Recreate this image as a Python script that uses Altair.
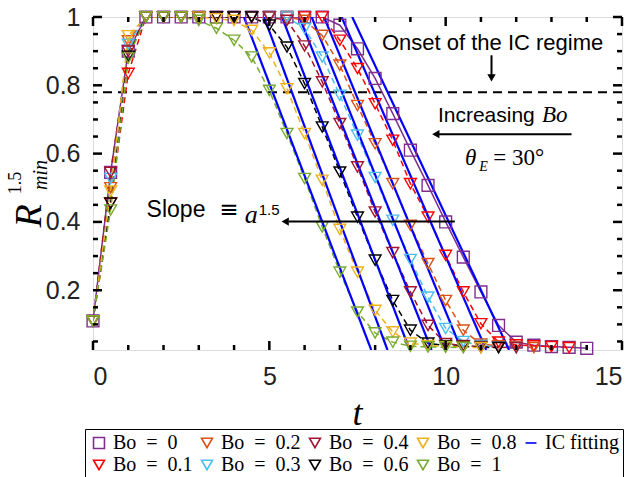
import altair as alt
import pandas as pd

# ---------------- data ----------------
T = [0, 0.5, 1, 1.5, 2, 2.5, 3, 3.5, 4, 4.5, 5, 5.5, 6, 6.5, 7, 7.5, 8, 8.5,
     9, 9.5, 10, 10.5, 11, 11.5, 12, 12.5, 13, 13.5, 14]

series_names = ["Bo\u2002=\u20020", "Bo\u2002=\u20020.1", "Bo\u2002=\u20020.2", "Bo\u2002=\u20020.3",
                "Bo\u2002=\u20020.4", "Bo\u2002=\u20020.6", "Bo\u2002=\u20020.8", "Bo\u2002=\u20021"]
series_colors = ["#7E2F8E", "#FF0000", "#D95319", "#4DBEEE",
                 "#A2142F", "#000000", "#EDB120", "#77AC30"]
fit_name = "IC fitting"

y_bo0 = [0.11, 0.545, 0.90, 1, 1, 1, 1, 1, 1, 1, 1, 1, 1, 1, 0.976, 0.907, 0.82, 0.717,
         0.61, 0.507, 0.40, 0.297, 0.195, 0.097, 0.048, 0.039, 0.035, 0.033, 0.03]
y_bo01 = [0.11, 0.455, 0.835, 1, 1, 1, 1, 1, 1, 1, 1, 1, 1, 1, 0.932, 0.849, 0.746, 0.639,
          0.512, 0.414, 0.302, 0.195, 0.102, 0.048, 0.04, 0.037, 0.035, 0.032]
y_bo02 = [0.11, 0.50, 0.93, 1, 1, 1, 1, 1, 1, 1, 1, 1, 0.99, 0.946, 0.859, 0.741, 0.629, 0.512,
          0.39, 0.278, 0.17, 0.083, 0.042, 0.037, 0.034, 0.032]
y_bo03 = [0.11, 0.527, 0.92, 1, 1, 1, 1, 1, 1, 1, 1, 1, 0.966, 0.883, 0.771, 0.654, 0.53, 0.405,
          0.29, 0.18, 0.088, 0.05, 0.038, 0.034, 0.032]
y_bo04 = [0.11, 0.545, 0.90, 1, 1, 1, 1, 1, 1, 1, 1, 0.99, 0.915, 0.81, 0.688, 0.561, 0.429, 0.31,
          0.195, 0.097, 0.044, 0.038, 0.035, 0.033, 0.032]
y_bo06 = [0.11, 0.455, 0.885, 1, 1, 1, 1, 1, 1, 1, 0.976, 0.912, 0.805, 0.678, 0.546, 0.414, 0.288,
          0.17, 0.083, 0.045, 0.038, 0.035, 0.033, 0.032]
y_bo08 = [0.11, 0.49, 0.945, 1, 1, 1, 1, 0.995, 0.99, 0.961, 0.895, 0.79, 0.659, 0.522, 0.378,
          0.253, 0.141, 0.078, 0.045, 0.038, 0.035, 0.033, 0.032]
y_bo1 = [0.11, 0.435, 0.88, 1, 1, 1, 0.99, 0.967, 0.932, 0.883, 0.785, 0.659, 0.527, 0.385, 0.253,
         0.136, 0.075, 0.048, 0.036, 0.034, 0.033, 0.032]
series_values = [y_bo0, y_bo01, y_bo02, y_bo03, y_bo04, y_bo06, y_bo08, y_bo1]

# IC fitting lines: t where the line is at R=1 and where it reaches the bottom axis
fit_t_top = [7.35, 7.05, 6.55, 6.2, 5.85, 5.36, 4.85, 4.28]
fit_t_bottom = [11.8, 11.15, 10.45, 10.0, 9.6, 8.98, 8.35, 7.89]
Y_MIN = 0.025
onset_level = 0.78

legend_order = series_names + [fit_name]

# ---------------- layout ----------------
W, H = 529, 333
PAD_L, PAD_T = 93, 17

color_of = dict(zip(series_names, series_colors))
color_of[fit_name] = "#0000FF"
shape_of = {n: "triangle-down" for n in series_names}
shape_of[series_names[0]] = "square"
shape_of[fit_name] = "stroke"

rows = []
for name, yv in zip(series_names, series_values):
    for t, v in zip(T, yv):
        rows.append({"t": t, "R": v, "series": name})
df = pd.DataFrame(rows)

fit_rows = []
for name, a, b in zip(series_names, fit_t_top, fit_t_bottom):
    fit_rows.append({"t": a, "R": 1.0, "series": name})
    fit_rows.append({"t": b, "R": Y_MIN, "series": name})
df_fit = pd.DataFrame(fit_rows)

xs = alt.Scale(domain=[0, 15], nice=False, zero=False)
ys = alt.Scale(domain=[Y_MIN, 1], nice=False, zero=False)

X = alt.X("t:Q", scale=xs, axis=alt.Axis(values=[0, 5, 10, 15], title=None, grid=False,
                                         tickSize=0, domain=False, labelFontSize=25,
                                         labelFont="Liberation Sans", labelPadding=14,
                                         labelColor="#222222", format="d"))
Y = alt.Y("R:Q", scale=ys, axis=alt.Axis(values=[0.2, 0.4, 0.6, 0.8, 1], title=None, grid=False,
                                         tickSize=0, domain=False, labelFontSize=25,
                                         labelFont="Liberation Sans", labelPadding=13,
                                         labelColor="#222222",
                                         labelExpr="datum.value == 1 ? '1' : format(datum.value, '.1f')"))

layers = []

# onset dashed line
layers.append(alt.Chart(pd.DataFrame({"R": [onset_level]})).mark_rule(
    color="black", strokeWidth=2, strokeDash=[9, 6]).encode(y=alt.Y("R:Q", scale=ys)))

# connecting lines of each series
for name in series_names:
    d = df[df.series == name]
    kw = dict(color=color_of[name], strokeWidth=1.5, clip=True)
    if name != series_names[0]:
        kw["strokeDash"] = [6, 4]
    layers.append(alt.Chart(d).mark_line(**kw).encode(x=X, y=Y, order="t:Q"))

# IC fitting lines
layers.append(alt.Chart(df_fit).mark_line(color="#0000FF", strokeWidth=2.2, clip=True).encode(
    x=alt.X("t:Q", scale=xs), y=alt.Y("R:Q", scale=ys), detail="series:N"))

# markers with legend
layers.append(alt.Chart(df).mark_point(filled=False, strokeWidth=1.4, size=140, opacity=1).encode(
    x=alt.X("t:Q", scale=xs),
    y=alt.Y("R:Q", scale=ys),
    color=alt.Color("series:N",
                    scale=alt.Scale(domain=legend_order, range=[color_of[n] for n in legend_order]),
                    legend=alt.Legend(title=None, orient="none", legendX=-8, legendY=412,
                                      columns=5, labelFont="Liberation Serif", labelFontSize=20,
                                      labelColor="black", symbolSize=120, symbolStrokeWidth=1.6,
                                      symbolFillColor="transparent", columnPadding=4, rowPadding=2,
                                      labelOffset=4, padding=4, strokeColor="black",
                                      fillColor="white", labelLimit=200)),
    shape=alt.Shape("series:N",
                    scale=alt.Scale(domain=legend_order, range=[shape_of[n] for n in legend_order]),
                    legend=None)))

# inward ticks on the box
x_major = [0, 5, 10, 15]
x_minor = [1, 2, 3, 4, 6, 7, 8, 9, 11, 12, 13, 14]
y_major = [0.2, 0.4, 0.6, 0.8, 1.0]
y_minor = [0.05, 0.1, 0.15, 0.25, 0.3, 0.35, 0.45, 0.5, 0.55, 0.65, 0.7, 0.75, 0.85, 0.9, 0.95]


def xticks(vals, length):
    d = pd.DataFrame({"t": vals})
    b = alt.Chart(d).mark_rule(color="black", strokeWidth=2.5).encode(
        x=alt.X("t:Q", scale=xs), y=alt.value(H), y2=alt.value(H - length))
    t = alt.Chart(d).mark_rule(color="black", strokeWidth=2.5).encode(
        x=alt.X("t:Q", scale=xs), y=alt.value(0), y2=alt.value(length))
    return [b, t]


def yticks(vals, length):
    d = pd.DataFrame({"R": vals})
    l = alt.Chart(d).mark_rule(color="black", strokeWidth=2.5).encode(
        y=alt.Y("R:Q", scale=ys), x=alt.value(0), x2=alt.value(length))
    r = alt.Chart(d).mark_rule(color="black", strokeWidth=2.5).encode(
        y=alt.Y("R:Q", scale=ys), x=alt.value(W), x2=alt.value(W - length))
    return [l, r]


layers += xticks(x_major, 9) + xticks(x_minor, 5) + yticks(y_major, 9) + yticks(y_minor, 5)


# annotations
def txt(t, r, s, size=21, font="Liberation Sans", style="normal", align="left"):
    return alt.Chart(pd.DataFrame({"t": [t], "R": [r], "s": [s]})).mark_text(
        font=font, fontSize=size, fontStyle=style, align=align, baseline="alphabetic",
        color="black").encode(x=alt.X("t:Q", scale=xs), y=alt.Y("R:Q", scale=ys), text="s:N")


def arrow_line(t1, r1, t2, r2):
    return alt.Chart(pd.DataFrame({"t": [t1], "R": [r1], "t2": [t2], "R2": [r2]})).mark_rule(
        color="black", strokeWidth=2).encode(x=alt.X("t:Q", scale=xs), y=alt.Y("R:Q", scale=ys),
                                             x2="t2:Q", y2="R2:Q")


def head(t, r, shape):
    return alt.Chart(pd.DataFrame({"t": [t], "R": [r]})).mark_point(
        shape=shape, filled=True, color="black", size=70, opacity=1).encode(
        x=alt.X("t:Q", scale=xs), y=alt.Y("R:Q", scale=ys))


layers += [
    txt(11.33, 0.9025, "Onset of the IC regime", align="center", size=22),
    arrow_line(11.3, 0.888, 11.3, 0.83),
    head(11.3, 0.822, "triangle-down"),
    txt(9.78, 0.6925, "Increasing", align="left"),
    txt(12.73, 0.6925, "Bo", font="Liberation Serif", style="italic", size=23),
    arrow_line(13.57, 0.657, 9.8, 0.657),
    head(9.72, 0.657, "triangle-left"),
    txt(10.55, 0.566, "θ", font="Liberation Serif", style="italic", size=23),
    txt(10.95, 0.548, "E", font="Liberation Serif", style="italic", size=14),
    txt(11.35, 0.566, "= 30°", font="Liberation Serif", size=23),
    txt(1.52, 0.4135, "Slope", size=23),
    txt(3.85, 0.4135, "≡", size=23, font="DejaVu Sans", align="center"),
    txt(4.3, 0.396, "a", font="Liberation Serif", style="italic", size=26),
    txt(4.7, 0.419, "1.5", size=15),
    arrow_line(10.26, 0.401, 5.55, 0.401),
    head(5.45, 0.401, "triangle-left"),
]


# axis titles as text
def ptxt(x, y, s, size, font, style="normal", angle=0):
    return alt.Chart(pd.DataFrame({"s": [s]})).mark_text(
        font=font, fontSize=size, fontStyle=style, angle=angle, align="center",
        baseline="middle", color="black").encode(x=alt.value(x), y=alt.value(y), text="s:N")


layers += [
    ptxt(W / 2, 397, "t", 36, "Liberation Serif", "italic"),
    ptxt(-63, 199, "R", 38, "Liberation Serif", "italic", 270),
    ptxt(-77, 166, "1.5", 18, "Liberation Serif", "normal", 270),
    ptxt(-52, 158, "min", 20, "Liberation Serif", "italic", 270),
]

chart = alt.layer(*layers).properties(
    width=W, height=H,
    autosize=alt.AutoSizeParams(type="none"),
    padding={"left": PAD_L, "top": PAD_T, "right": 636 - PAD_L - W, "bottom": 477 - PAD_T - H},
).configure_view(stroke="black", strokeWidth=3).configure(background="white")

chart.save("out.html", embed_options={"renderer": "svg", "actions": False})
